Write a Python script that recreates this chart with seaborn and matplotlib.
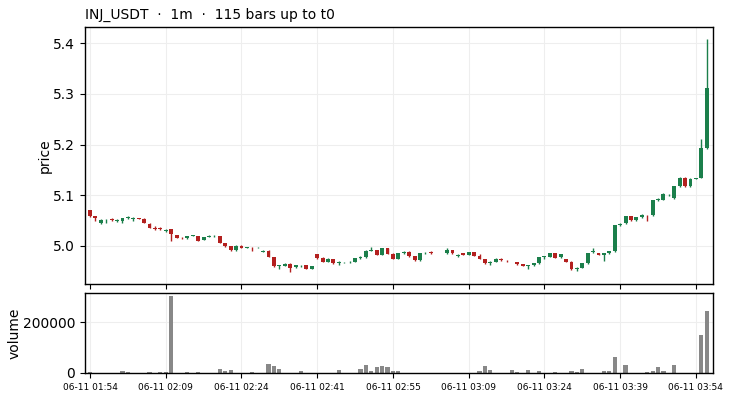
import numpy as np
import pandas as pd
import matplotlib
matplotlib.use("Agg")
import matplotlib.pyplot as plt
import seaborn as sns

# candles, one per minute bar
opens = [5.071, 5.059, 5.045, 5.049, 5.053, 5.050, 5.050, 5.055, 5.054, 5.056,
         5.053, 5.044, 5.036, 5.036, 5.030, 5.033, 5.021, 5.016, 5.015, 5.020,
         5.019, 5.012, 5.018, 5.019, 5.019, 5.006, 5.000, 4.992, 5.000, 4.996,
         4.996, 4.995, 4.989, 4.991, 4.979, 4.961, 4.961, 4.965, 4.958, 4.960,
         4.962, 4.955, 4.984, 4.976, 4.969, 4.975, 4.967, 4.968, 4.968, 4.969,
         4.977, 4.978, 4.990, 4.992, 4.983, 4.995, 4.985, 4.975, 4.986, 4.989,
         4.980, 4.972, 4.986, 4.989, 4.987, 4.987, 4.986, 4.992, 4.981, 4.986,
         4.983, 4.988, 4.980, 4.975, 4.966, 4.969, 4.975, 4.971, 4.968, 4.968,
         4.964, 4.961, 4.962, 4.966, 4.978, 4.979, 4.986, 4.978, 4.975, 4.969,
         4.954, 4.957, 4.966, 4.989, 4.986, 4.983, 4.986, 4.990, 5.041, 5.045,
         5.059, 5.051, 5.057, 5.062, 5.061, 5.091, 5.091, 5.100, 5.094, 5.118,
         5.135, 5.118, 5.133, 5.135, 5.194]
closes = [5.059, 5.055, 5.051, 5.050, 5.051, 5.051, 5.055, 5.057, 5.055, 5.054,
          5.046, 5.036, 5.034, 5.033, 5.032, 5.024, 5.016, 5.015, 5.019, 5.021,
          5.010, 5.017, 5.019, 5.020, 5.006, 5.000, 4.992, 5.000, 4.996, 4.997,
          4.995, 4.996, 4.990, 4.979, 4.960, 4.962, 4.965, 4.956, 4.962, 4.961,
          4.955, 4.960, 4.976, 4.969, 4.975, 4.966, 4.968, 4.969, 4.969, 4.977,
          4.978, 4.990, 4.992, 4.983, 4.995, 4.985, 4.975, 4.986, 4.989, 4.980,
          4.972, 4.986, 4.987, 4.986, 4.987, 4.987, 4.992, 4.986, 4.982, 4.983,
          4.988, 4.981, 4.975, 4.966, 4.969, 4.975, 4.972, 4.970, 4.969, 4.964,
          4.961, 4.962, 4.966, 4.978, 4.980, 4.986, 4.977, 4.984, 4.969, 4.954,
          4.957, 4.966, 4.986, 4.990, 4.983, 4.986, 4.990, 5.041, 5.044, 5.059,
          5.051, 5.057, 5.062, 5.061, 5.090, 5.093, 5.102, 5.101, 5.118, 5.135,
          5.118, 5.133, 5.134, 5.194, 5.311]
highs = [5.071, 5.059, 5.053, 5.053, 5.055, 5.054, 5.055, 5.060, 5.058, 5.056,
         5.056, 5.046, 5.039, 5.037, 5.034, 5.033, 5.022, 5.017, 5.020, 5.022,
         5.020, 5.018, 5.021, 5.022, 5.019, 5.006, 5.000, 5.001, 5.001, 4.998,
         4.997, 4.997, 4.992, 4.993, 4.979, 4.963, 4.966, 4.966, 4.963, 4.963,
         4.963, 4.961, 4.985, 4.978, 4.976, 4.975, 4.971, 4.969, 4.970, 4.977,
         4.980, 4.992, 4.997, 4.993, 4.995, 4.995, 4.986, 4.987, 4.990, 4.990,
         4.981, 4.987, 4.988, 4.990, 4.987, 4.987, 4.995, 4.992, 4.985, 4.987,
         4.989, 4.989, 4.984, 4.975, 4.970, 4.976, 4.976, 4.972, 4.969, 4.969,
         4.964, 4.962, 4.967, 4.979, 4.980, 4.987, 4.987, 4.985, 4.975, 4.970,
         4.958, 4.967, 4.987, 4.995, 4.987, 4.986, 4.991, 5.042, 5.045, 5.060,
         5.060, 5.058, 5.064, 5.062, 5.091, 5.095, 5.104, 5.102, 5.118, 5.136,
         5.136, 5.134, 5.135, 5.211, 5.409]
lows = [5.057, 5.049, 5.044, 5.046, 5.050, 5.048, 5.046, 5.054, 5.050, 5.053,
        5.045, 5.035, 5.031, 5.031, 5.028, 5.010, 5.015, 5.013, 5.014, 5.020,
        5.009, 5.011, 5.017, 5.017, 5.006, 4.998, 4.991, 4.991, 4.996, 4.995,
        4.991, 4.995, 4.988, 4.978, 4.959, 4.955, 4.960, 4.948, 4.957, 4.959,
        4.954, 4.954, 4.975, 4.968, 4.968, 4.965, 4.963, 4.967, 4.967, 4.968,
        4.975, 4.977, 4.990, 4.982, 4.982, 4.984, 4.974, 4.974, 4.985, 4.979,
        4.971, 4.971, 4.985, 4.985, 4.987, 4.987, 4.985, 4.985, 4.978, 4.982,
        4.982, 4.980, 4.974, 4.965, 4.963, 4.968, 4.971, 4.969, 4.968, 4.963,
        4.960, 4.955, 4.961, 4.965, 4.975, 4.978, 4.976, 4.976, 4.968, 4.953,
        4.951, 4.956, 4.965, 4.986, 4.982, 4.970, 4.985, 4.989, 5.040, 5.044,
        5.050, 5.049, 5.055, 5.049, 5.060, 5.089, 5.090, 5.099, 5.093, 5.117,
        5.117, 5.117, 5.132, 5.134, 5.191]
volume = [4000, 0, 0, 0, 0, 0, 9000, 4000, 0, 0,
          0, 4000, 0, 4000, 4000, 302000, 0, 0, 3500, 0,
          3500, 0, 0, 0, 17000, 9000, 13000, 0, 0, 0,
          3500, 0, 0, 36000, 26000, 17000, 0, 0, 0, 9000,
          0, 0, 0, 0, 0, 0, 13000, 0, 0, 0,
          17000, 30000, 6000, 22000, 26000, 22000, 9000, 9000, 0, 0,
          0, 0, 0, 0, 0, 0, 0, 0, 0, 0,
          0, 0, 9000, 26000, 13000, 0, 0, 0, 13000, 5000,
          0, 13000, 0, 9000, 0, 0, 4000, 0, 0, 9000,
          5000, 17000, 0, 0, 0, 9000, 9000, 61000, 0, 30000,
          0, 0, 0, 5000, 9000, 22000, 9000, 0, 33000, 0,
          0, 0, 0, 148000, 242000]

tick_bars = [0, 14, 28, 42, 56, 70, 84, 98, 112]
tick_labels = ["06-11 01:54", "06-11 02:09", "06-11 02:24", "06-11 02:41",
               "06-11 02:55", "06-11 03:09", "06-11 03:24", "06-11 03:39",
               "06-11 03:54"]

UP = "#1b7f4b"
DOWN = "#b3201f"

df = pd.DataFrame({"open": opens, "high": highs, "low": lows,
                   "close": closes, "volume": volume})
df["bar"] = np.arange(len(df))
df["col"] = np.where(df["close"] >= df["open"], UP, DOWN)

sns.set_theme(style="ticks", rc={"axes.edgecolor": "black",
                                 "axes.linewidth": 1.0,
                                 "xtick.color": "black",
                                 "ytick.color": "black",
                                 "xtick.major.size": 3.5,
                                 "ytick.major.size": 3.5,
                                 "xtick.major.width": 0.8,
                                 "ytick.major.width": 0.8,
                                 "xtick.major.pad": 3.5,
                                 "ytick.major.pad": 3.5,
                                 "text.color": "black",
                                 "axes.labelcolor": "black"})
plt.rcParams["font.family"] = ["DejaVu Sans"]

fig = plt.figure(figsize=(7.33, 4.0), dpi=100)
ax = fig.add_axes([0.116, 0.29, 0.857, 0.6425])
axv = fig.add_axes([0.116, 0.0675, 0.857, 0.2], sharex=ax)

# wicks then bodies
ax.vlines(df["bar"], df["low"], df["high"], colors=df["col"], linewidth=1.0, zorder=2)
body_lo = np.minimum(df["open"], df["close"])
body_h = np.abs(df["close"] - df["open"])
ax.bar(df["bar"], body_h, bottom=body_lo, width=0.72, color=df["col"],
       linewidth=0, zorder=3)

# volume: categorical positions 0..114 line up with the candle index
sns.barplot(data=df, x="bar", y="volume", color="#888888", width=0.78,
            saturation=1, linewidth=0, edgecolor="none", ax=axv, zorder=2)

for a in (ax, axv):
    a.grid(True, color="#eeeeee", linewidth=0.8, zorder=0)
    a.set_axisbelow(True)
    for s in a.spines.values():
        s.set_visible(True)

ax.set_xlim(-0.92, 115.2)
ax.set_xticks(tick_bars)
ax.tick_params(axis="x", labelbottom=False)
ax.set_yticks([5.0, 5.1, 5.2, 5.3, 5.4])
ax.tick_params(axis="y", labelsize=10)
ax.set_ylabel("price", fontsize=10, labelpad=1)
ax.set_xlabel("")
ax.set_title("INJ_USDT  \u00b7  1m  \u00b7  115 bars up to t0", loc="left",
             fontsize=10, pad=6)

axv.set_xticks(tick_bars)
axv.set_xticklabels(tick_labels, fontsize=6.5)
axv.set_xlim(-0.92, 115.2)
axv.set_ylim(0, max(volume) * 1.04)
axv.set_yticks([0, 200000])
axv.set_yticklabels(["0", "200000"])
axv.tick_params(axis="y", labelsize=10)
axv.set_ylabel("volume", fontsize=10, labelpad=1)
axv.set_xlabel("")

fig.savefig("out.png", dpi=100)
